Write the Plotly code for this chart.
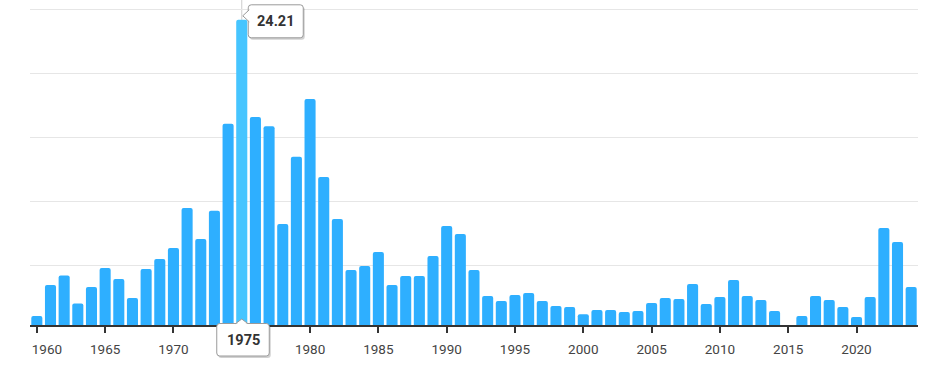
import plotly.graph_objects as go

years = list(range(1960, 2025))
values = [
    1.03, 3.46, 4.21, 2.02, 3.30, 4.79, 3.93, 2.44, 4.71, 5.49,
    6.36, 9.49, 7.06, 9.26, 16.07, 24.21, 16.60, 15.89, 8.24, 13.49,
    18.01, 11.92, 8.63, 4.63, 4.95, 6.04, 3.46, 4.16, 4.16, 5.73,
    8.08, 7.45, 4.63, 2.59, 2.20, 2.67, 2.83, 2.20, 1.81, 1.73,
    1.18, 1.50, 1.50, 1.34, 1.42, 2.05, 2.44, 2.36, 3.53, 1.97,
    2.52, 3.85, 2.59, 2.28, 1.42, None, 1.03, 2.59, 2.28, 1.73,
    0.95, 2.52, 7.92, 6.83, 3.30,
]
tick_years = list(range(1960, 2021, 5))
highlight_year = 1975
highlight_value = values[years.index(highlight_year)]


def tick_label(t):
    if t == highlight_year:
        return ""  # covered by the year tooltip
    if t == tick_years[0]:
        return "\u00a0" * 6 + str(t)  # first label nudged right to stay inside plot
    return str(t)


tick_text = [tick_label(t) for t in tick_years]

base_color = "#2eafff"
hl_color = "#46c5ff"
colors = [hl_color if y == highlight_year else base_color for y in years]

fig = go.Figure()
fig.add_trace(go.Bar(
    x=years, y=values, marker=dict(color=colors, line=dict(width=0)),
    hoverinfo="none",
))


def rrect(x0, x1, y0, y1, r=3):
    # rounded rectangle path (pixel offsets, y up)
    return (f"M{x0 + r},{y1} L{x1 - r},{y1} Q{x1},{y1} {x1},{y1 - r} "
            f"L{x1},{y0 + r} Q{x1},{y0} {x1 - r},{y0} L{x0 + r},{y0} "
            f"Q{x0},{y0} {x0},{y0 + r} L{x0},{y1 - r} Q{x0},{y1} {x0 + r},{y1} Z")


shapes = []
# crosshair line above highlighted bar
shapes.append(dict(type="line", xref="x", yref="y", x0=highlight_year, x1=highlight_year,
                   y0=highlight_value, y1=30, line=dict(color="#cccccc", width=1), layer="below"))

# value tooltip (to the right of the bar top)
vbox = (6.5, 61.5, -18, 15)
for dx, dy, fill, lc in [(1.5, -2, "rgba(0,0,0,0.18)", "rgba(0,0,0,0)"), (0, 0, "white", "#9a9a9a")]:
    p = rrect(vbox[0] + dx, vbox[1] + dx, vbox[2] + dy, vbox[3] + dy)
    shapes.append(dict(type="path", xref="x", yref="y", xsizemode="pixel", ysizemode="pixel",
                       xanchor=highlight_year, yanchor=highlight_value, path=p,
                       fillcolor=fill, line=dict(color=lc, width=1), layer="above"))
shapes.append(dict(type="path", xref="x", yref="y", xsizemode="pixel", ysizemode="pixel",
                   xanchor=highlight_year, yanchor=highlight_value,
                   path="M7.5,10 L1,4 L7.5,-2",
                   fillcolor="white", line=dict(color="#9a9a9a", width=1), layer="above"))
shapes.append(dict(type="path", xref="x", yref="y", xsizemode="pixel", ysizemode="pixel",
                   xanchor=highlight_year, yanchor=highlight_value,
                   path="M7.5,9 L2.6,4 L7.5,-1 Z",
                   fillcolor="white", line=dict(color="white", width=0), layer="above"))

# year tooltip (below the axis)
ybox = (-25, 27.5, -31, 1.5)
for dx, dy, fill, lc in [(1.5, -2, "rgba(0,0,0,0.18)", "rgba(0,0,0,0)"), (0, 0, "white", "#9a9a9a")]:
    p = rrect(ybox[0] + dx, ybox[1] + dx, ybox[2] + dy, ybox[3] + dy)
    shapes.append(dict(type="path", xref="x", yref="paper", xsizemode="pixel", ysizemode="pixel",
                       xanchor=highlight_year, yanchor=0, path=p,
                       fillcolor=fill, line=dict(color=lc, width=1), layer="above"))
shapes.append(dict(type="path", xref="x", yref="paper", xsizemode="pixel", ysizemode="pixel",
                   xanchor=highlight_year, yanchor=0, path="M-6,1.5 L0,6 L6,1.5",
                   fillcolor="white", line=dict(color="#9a9a9a", width=1), layer="above"))
shapes.append(dict(type="path", xref="x", yref="paper", xsizemode="pixel", ysizemode="pixel",
                   xanchor=highlight_year, yanchor=0, path="M-5,1 L0,4.8 L5,1 Z",
                   fillcolor="white", line=dict(color="white", width=0), layer="above"))

annotations = [
    dict(x=highlight_year, y=highlight_value, xref="x", yref="y", text=f"<b>{highlight_value:.2f}</b>",
         showarrow=False, xshift=34, yshift=-1.5, xanchor="center", yanchor="middle",
         font=dict(family="Roboto", size=14.5, color="#333333")),
    dict(x=highlight_year, y=0, xref="x", yref="paper", text=f"<b>{highlight_year}</b>",
         showarrow=False, xshift=1.5, yshift=-15, xanchor="center", yanchor="middle",
         font=dict(family="Roboto", size=14.5, color="#333333")),
]

fig.update_layout(
    width=926, height=367,
    margin=dict(l=30, r=8, t=0, b=42),
    paper_bgcolor="white", plot_bgcolor="white",
    bargap=0.19,
    barcornerradius=2,
    showlegend=False,
    shapes=shapes,
    annotations=annotations,
    font=dict(family="Roboto", size=13, color="#444444"),
    xaxis=dict(
        range=[1959.5, 2024.5], tickvals=tick_years, ticktext=tick_text,
        showline=True, linecolor="#333333", linewidth=1.5,
        ticks="outside", ticklen=6, tickcolor="#333333", tickwidth=1.5,
        ticklabelstandoff=5,
        showgrid=False, zeroline=False,
        tickfont=dict(family="Roboto", size=13.5, color="#444444"),
    ),
    yaxis=dict(
        range=[0.33, 25.76], tickvals=[5, 10, 15, 20, 25], showticklabels=False,
        showgrid=True, gridcolor="#e6e6e6", gridwidth=1, zeroline=False, showline=False,
    ),
)

fig.write_html(
    "out.html",
    config={"displayModeBar": False},
    post_script="document.body.style.margin='0';document.body.style.overflow='hidden';",
)
